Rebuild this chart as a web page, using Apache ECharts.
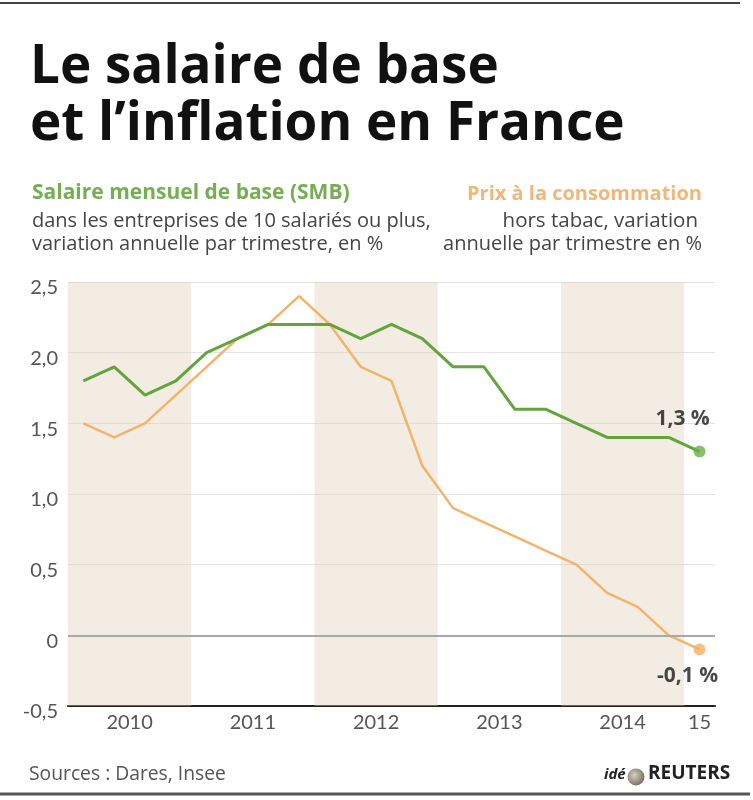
<!DOCTYPE html>
<html><head><meta charset="utf-8">
<script src="https://cdn.jsdelivr.net/npm/echarts@6/dist/echarts.min.js"></script>
<style>html,body{margin:0;padding:0;background:#fff}#c{width:753px;height:800px}</style>
</head><body><div id="c"></div>
<script>
// ---- data ----
const quarters = ['2010T1','2010T2','2010T3','2010T4','2011T1','2011T2','2011T3','2011T4',
  '2012T1','2012T2','2012T3','2012T4','2013T1','2013T2','2013T3','2013T4',
  '2014T1','2014T2','2014T3','2014T4','2015T1'];
const salaire = [1.8,1.9,1.7,1.8,2.0,2.1,2.2,2.2,2.2,2.1,2.2,2.1,1.9,1.9,1.6,1.6,1.5,1.4,1.4,1.4,1.3];
const prix    = [1.5,1.4,1.5,1.7,1.9,2.1,2.2,2.4,2.2,1.9,1.8,1.2,0.9,0.8,0.7,0.6,0.5,0.3,0.2,0.0,-0.1];
const years = ['2010','2011','2012','2013','2014','2015'];
const yearLabels = ['2010','2011','2012','2013','2014','15'];
const shadedYears = ['2010','2012','2014'];
const yMin = -0.5, yMax = 2.5, yStep = 0.5;

// ---- derived ----
const groups = years.map(function (y, k) {
  const idx = [];
  quarters.forEach(function (q, i) { if (q.slice(0, 4) === y) idx.push(i); });
  return { year: y, label: yearLabels[k], first: idx[0], last: idx[idx.length - 1],
           center: idx.reduce(function (a, b) { return a + b; }, 0) / idx.length };
});
const fmt = function (v) { return v === 0 ? '0' : v.toFixed(1).replace('.', ','); };

const GREEN = '#63a43f', ORANGE = '#f2b46c';
const FONT = '"Open Sans"';
const AXF = 'Lato';

const chart = echarts.init(document.getElementById('c'), null, { renderer: 'canvas' });

const titleBase = { left: 30, textStyle: { fontFamily: FONT, fontWeight: 'bold', fontSize: 53, color: '#111' } };
const sub = function (text, top, color, size, bold, right) {
  const t = { text: text, top: top, padding: 0,
    textStyle: { fontFamily: FONT, fontSize: size, fontWeight: bold ? 'bold' : 'normal', color: color } };
  if (right) t.right = right; else t.left = 32;
  return t;
};

chart.setOption({
  animation: false,
  backgroundColor: '#fff',
  title: [
    Object.assign({ text: 'Le salaire de base', top: 41, padding: 0 }, titleBase),
    Object.assign({ text: 'et l\u2019inflation en France', top: 98, padding: 0 }, titleBase),
    sub('Salaire mensuel de base (SMB)', 183, '#76ad55', 21, true, 0),
    sub('dans les entreprises de 10 salariés ou plus,', 211, '#444', 20, false, 0),
    sub('variation annuelle par trimestre, en %', 234, '#444', 20, false, 0),
    sub('Prix à la consommation', 184, '#f0b779', 20, true, 51),
    sub('hors tabac, variation', 211, '#444', 20.5, false, 55),
    sub('annuelle par trimestre en %', 234, '#444', 20, false, 51),
    { text: 'Sources : Dares, Insee', left: 29, top: 765, padding: 0,
      textStyle: { fontFamily: FONT, fontSize: 19.3, fontWeight: 'normal', color: '#555' } }
  ],
  grid: { left: 68, right: 38, top: 282, bottom: 94, containLabel: false },
  xAxis: {
    type: 'value', min: -0.5, max: quarters.length - 0.5, interval: 0.5,
    axisLine: { show: true, onZero: false, lineStyle: { color: '#222', width: 2 } },
    axisTick: { show: false }, splitLine: { show: false },
    axisLabel: {
      show: true, margin: 7, fontFamily: AXF, fontSize: 20, color: '#555',
      showMinLabel: true, showMaxLabel: true,
      formatter: function (v) {
        const g = groups.find(function (g) { return Math.abs(g.center - v) < 1e-6; });
        return g ? g.label : '';
      }
    }
  },
  yAxis: {
    type: 'value', min: yMin, max: yMax, interval: yStep,
    axisLine: { show: false }, axisTick: { show: false },
    splitLine: { show: true, lineStyle: { color: '#e4e4e4', width: 1 } },
    axisLabel: { margin: 10, fontFamily: AXF, fontSize: 20, color: '#555',
      verticalAlign: 'top', lineHeight: 12, formatter: fmt }
  },
  graphic: [
    { type: 'line', shape: { x1: 0, y1: 3, x2: 740, y2: 3 }, style: { stroke: '#444', lineWidth: 2 }, silent: true },
    { type: 'line', shape: { x1: 0, y1: 794, x2: 750, y2: 794 }, style: { stroke: '#555', lineWidth: 3 }, silent: true },
    { type: 'text', left: 604, top: 767, style: { text: 'idé', font: 'italic bold 15px ' + FONT, fill: '#222' } },
    { type: 'circle', shape: { cx: 636, cy: 777, r: 8.5 },
      style: { fill: new echarts.graphic.RadialGradient(0.4, 0.4, 0.7, [
        { offset: 0, color: '#d8d0c4' }, { offset: 0.6, color: '#9a8f80' }, { offset: 1, color: '#6c6258' }]) } },
    { type: 'text', left: 648, top: 764, style: { text: 'REUTERS', font: 'bold 19px ' + FONT, fill: '#222' } }
  ],
  series: [
    {
      type: 'line', data: [], z: 1, silent: true,
      markArea: {
        silent: true,
        itemStyle: { color: 'rgba(220,205,178,0.38)' },
        data: groups.filter(function (g) { return shadedYears.indexOf(g.year) >= 0; }).map(function (g) {
          return [{ xAxis: g.first - 0.5, yAxis: yMin }, { xAxis: g.last + 0.5, yAxis: yMax }];
        })
      },
      markLine: {
        silent: true, symbol: 'none', label: { show: false },
        lineStyle: { color: '#a8a8a8', width: 2, type: 'solid' },
        data: [{ yAxis: 0 }]
      }
    },
    {
      name: 'Prix', type: 'line', z: 3, showSymbol: false, smooth: false,
      lineStyle: { color: ORANGE, width: 2.5 },
      data: prix.map(function (v, i) { return [i, v]; })
    },
    {
      name: 'Salaire', type: 'line', z: 4, showSymbol: false, smooth: false,
      lineStyle: { color: GREEN, width: 3 },
      data: salaire.map(function (v, i) { return [i, v]; })
    },
    {
      type: 'scatter', z: 5, symbolSize: 12,
      itemStyle: { color: '#6bb048' },
      data: [[salaire.length - 1, salaire[salaire.length - 1]]],
      label: { show: true, position: 'top', distance: 0, offset: [-17, -16],
        fontFamily: FONT, fontWeight: 'bold', fontSize: 21, color: '#1a1a1a',
        formatter: function (p) { return fmt(p.value[1]) + ' %'; } }
    },
    {
      type: 'scatter', z: 5, symbolSize: 12,
      itemStyle: { color: '#f2b064' },
      data: [[prix.length - 1, prix[prix.length - 1]]],
      label: { show: true, position: 'bottom', distance: 0, offset: [-12, 10],
        fontFamily: FONT, fontWeight: 'bold', fontSize: 21, color: '#1a1a1a',
        formatter: function (p) { return fmt(p.value[1]) + ' %'; } }
    }
  ]
});
</script>
</body></html>
